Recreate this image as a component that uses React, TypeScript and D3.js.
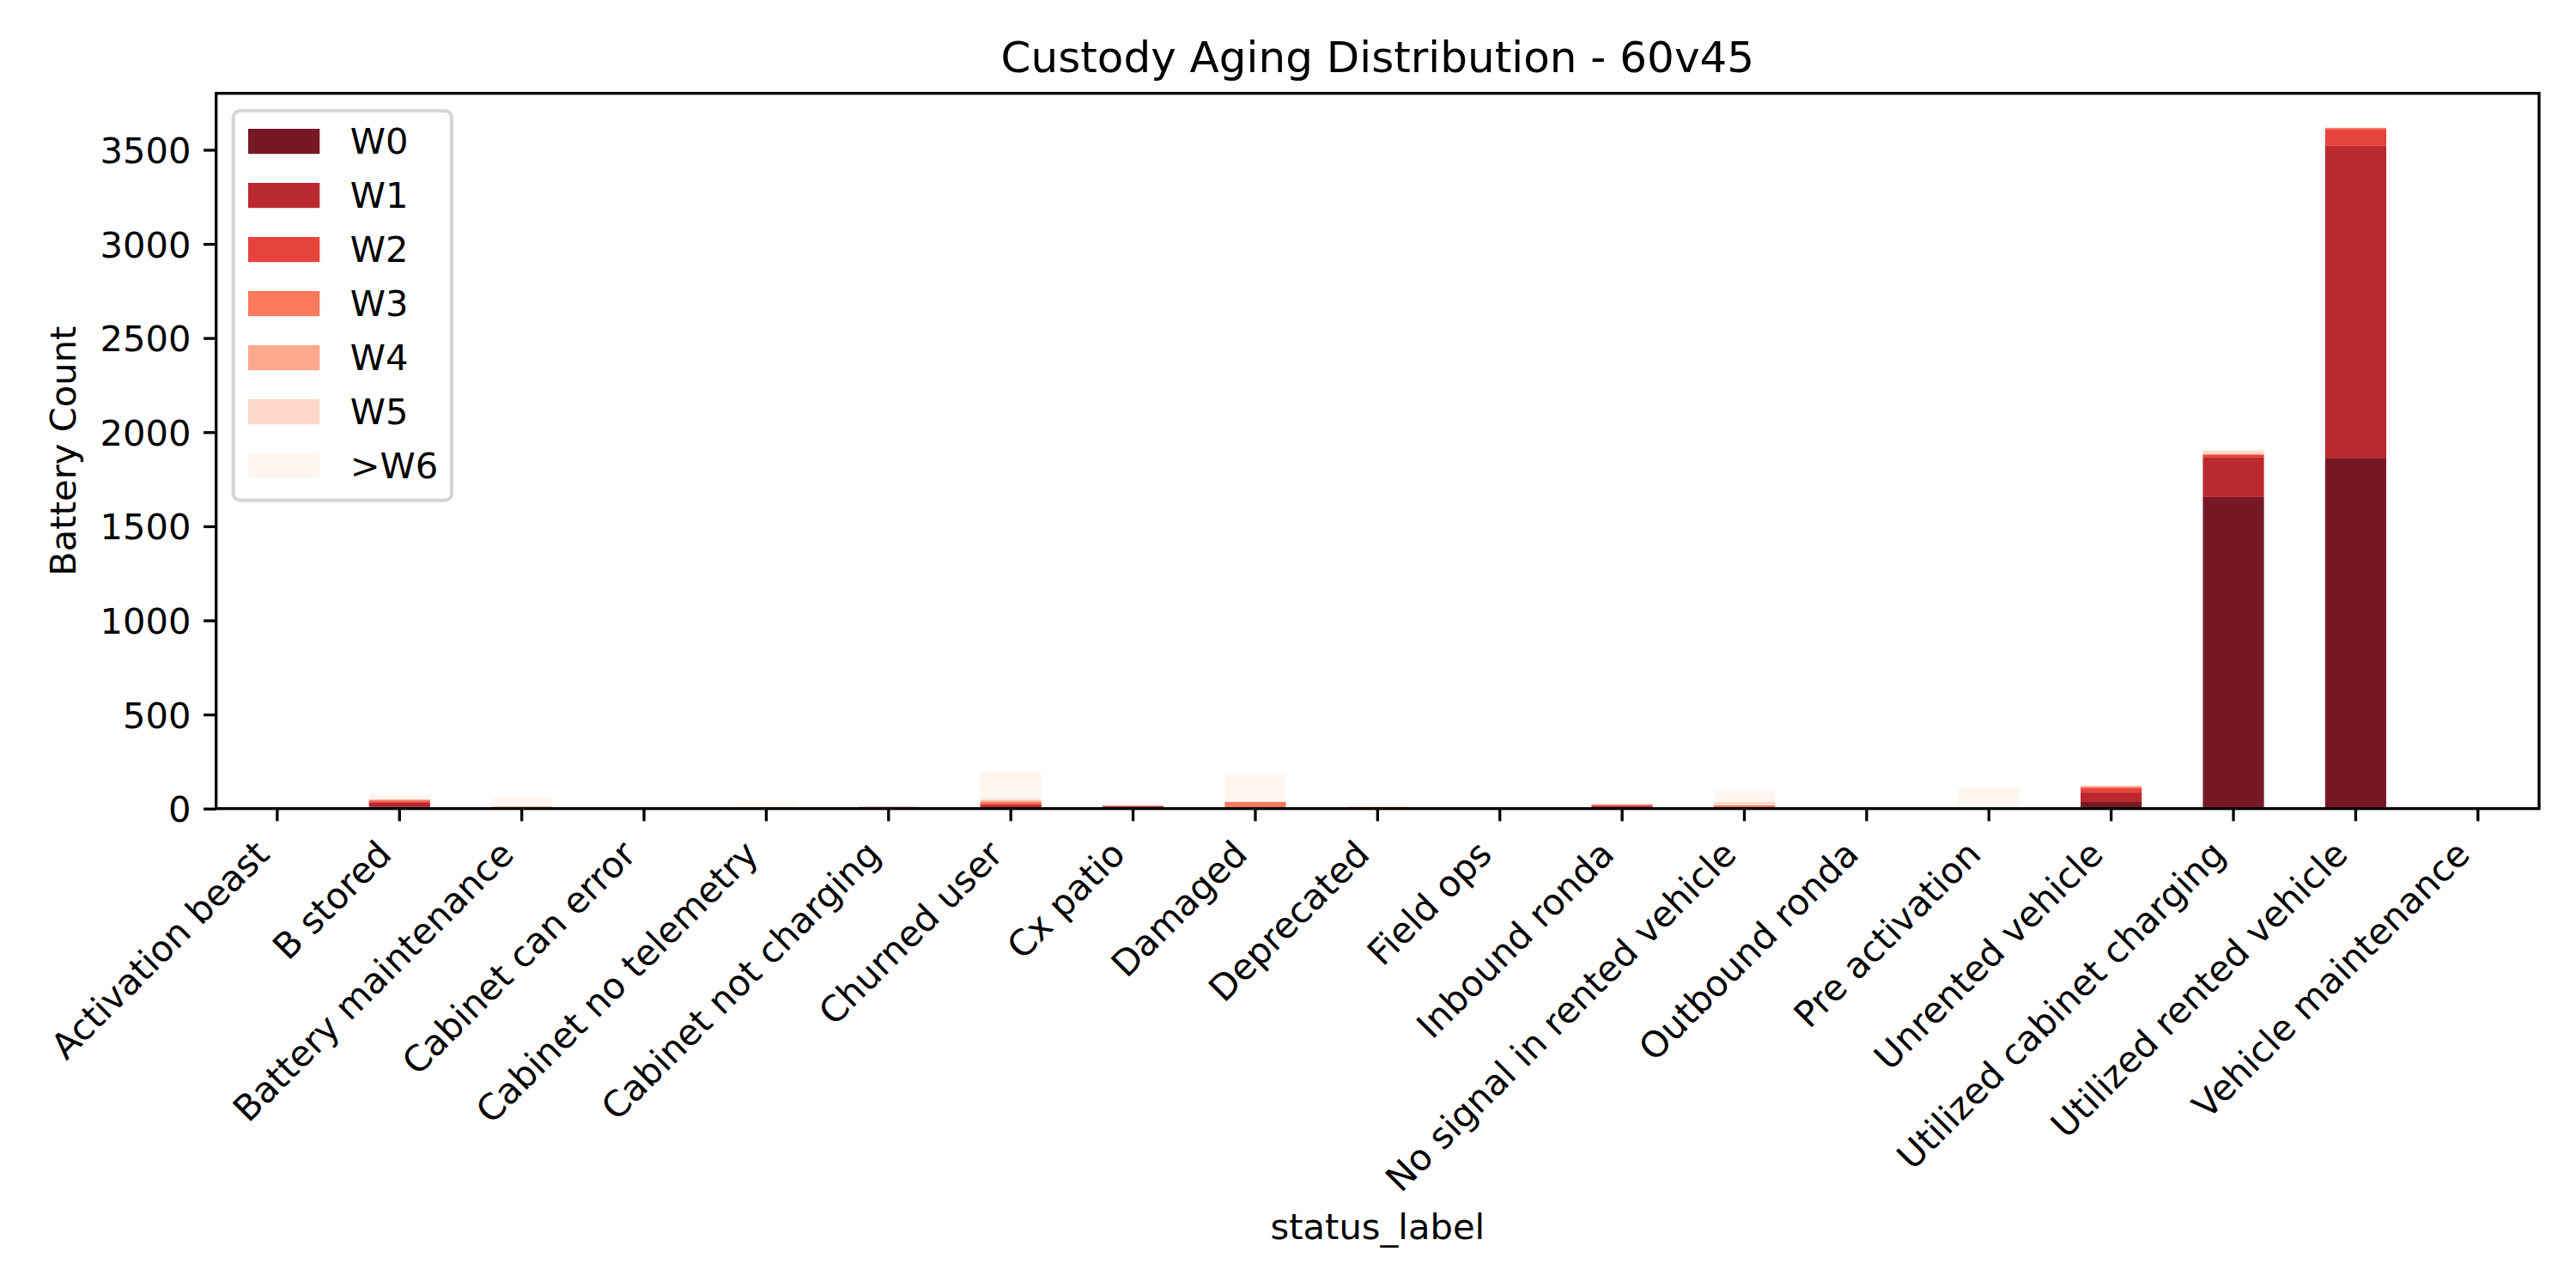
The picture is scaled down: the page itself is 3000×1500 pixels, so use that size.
import React, { useEffect, useRef } from "react";
import * as d3 from "d3";

// status categories (x axis)
const categories = [
  "Activation beast",
  "B stored",
  "Battery maintenance",
  "Cabinet can error",
  "Cabinet no telemetry",
  "Cabinet not charging",
  "Churned user",
  "Cx patio",
  "Damaged",
  "Deprecated",
  "Field ops",
  "Inbound ronda",
  "No signal in rented vehicle",
  "Outbound ronda",
  "Pre activation",
  "Unrented vehicle",
  "Utilized cabinet charging",
  "Utilized rented vehicle",
  "Vehicle maintenance",
];

const seriesKeys = ["W0", "W1", "W2", "W3", "W4", "W5", ">W6"];

// battery counts per age bucket
const w0 = [0, 11, 0, 0, 0, 3, 7, 4, 0, 7, 0, 3, 0, 0, 0, 35, 1655, 1860, 0];
const w1 = [0, 20, 0, 0, 0, 6, 10, 8, 0, 0, 0, 12, 0, 0, 0, 50, 210, 1661, 0];
const w2 = [0, 8, 0, 0, 0, 0, 10, 3, 0, 0, 0, 5, 0, 0, 0, 23, 13, 89, 0];
const w3 = [0, 6, 0, 0, 0, 0, 10, 0, 35, 3, 0, 0, 18, 0, 0, 8, 4, 7, 0];
const w4 = [0, 5, 12, 0, 4, 0, 6, 0, 2, 0, 0, 4, 0, 0, 0, 4, 3, 0, 0];
const w5 = [0, 0, 0, 0, 0, 0, 8, 0, 0, 0, 0, 0, 17, 0, 0, 0, 17, 0, 0];
const w6plus = [0, 27, 46, 0, 26, 0, 141, 0, 141, 9, 0, 0, 59, 0, 112, 0, 9, 2, 0];

const yTicks = [0, 500, 1000, 1500, 2000, 2500, 3000, 3500];

// matplotlib "Reds" colormap control points
const redsStops = [
  "#fff5f0", "#fee0d2", "#fcbba1", "#fc9272", "#fb6a4a",
  "#ef3b2c", "#cb181d", "#a50f15", "#67000d",
];

const App: React.FC = () => {
  const chartRef = useRef<HTMLDivElement>(null);

  useEffect(() => {
    const container = chartRef.current;
    if (!container) return;

    const width = 3000;
    const height = 1500;
    const fs = 41.67; // 10pt @ 300dpi
    const margin = { top: 108.7, right: 43, bottom: 558.3, left: 251.7 };
    const innerW = width - margin.left - margin.right;
    const innerH = height - margin.top - margin.bottom;
    const tickLen = 14.6;
    const lw = 3.33;

    const root = d3.select(container);
    root.selectAll("*").remove();

    const svg = root
      .append("svg")
      .attr("width", width)
      .attr("height", height)
      .style("position", "absolute")
      .style("left", "0px")
      .style("top", "0px")
      .style("font-family", "'DejaVu Sans', sans-serif");

    svg.append("rect").attr("width", width).attr("height", height).attr("fill", "white");

    const g = svg.append("g").attr("transform", `translate(${margin.left},${margin.top})`);

    const columns = [w0, w1, w2, w3, w4, w5, w6plus];
    const rows = categories.map((c, i) => {
      const r: any = { status: c };
      seriesKeys.forEach((k, j) => (r[k] = columns[j][i]));
      return r;
    });

    const stacked = d3.stack<any>().keys(seriesKeys)(rows);
    const maxTotal = d3.max(rows, (r) => d3.sum(seriesKeys, (k) => r[k])) || 0;

    const x = d3
      .scaleBand()
      .domain(categories)
      .range([0, innerW])
      .paddingInner(0.5)
      .paddingOuter(0.25);

    const y = d3.scaleLinear().domain([0, maxTotal * 1.05]).range([innerH, 0]);

    const reds = d3
      .scaleLinear<string>()
      .domain(redsStops.map((_, i) => i / (redsStops.length - 1)))
      .range(redsStops)
      .interpolate(d3.interpolateRgb);

    const color = d3
      .scaleOrdinal<string, string>()
      .domain(seriesKeys)
      .range(seriesKeys.map((_, i) => reds(1 - i / (seriesKeys.length - 1))));

    // bars
    g.selectAll("g.layer")
      .data(stacked)
      .enter()
      .append("g")
      .attr("class", "layer")
      .attr("fill", (d) => color(d.key))
      .attr("fill-opacity", 0.9)
      .selectAll("rect")
      .data((d) => d)
      .enter()
      .append("rect")
      .attr("x", (d: any) => x(d.data.status) as number)
      .attr("width", x.bandwidth())
      .attr("y", (d) => y(d[1]))
      .attr("height", (d) => Math.max(0, y(d[0]) - y(d[1])));

    // y axis
    const yAxis = g
      .append("g")
      .call(d3.axisLeft(y).tickValues(yTicks).tickSize(tickLen).tickPadding(tickLen).tickFormat(d3.format("d")));
    yAxis.select(".domain").remove();
    yAxis.selectAll(".tick line").attr("stroke", "black").attr("stroke-width", lw);
    yAxis
      .selectAll(".tick text")
      .attr("font-size", fs)
      .attr("font-family", "'DejaVu Sans', sans-serif")
      .attr("fill", "black")
      .attr("dy", "0.36em");

    // x axis
    const xAxis = g
      .append("g")
      .attr("transform", `translate(0,${innerH})`)
      .call(d3.axisBottom(x).tickSize(tickLen).tickSizeOuter(0));
    xAxis.select(".domain").remove();
    xAxis.selectAll(".tick line").attr("stroke", "black").attr("stroke-width", lw);
    xAxis
      .selectAll(".tick text")
      .attr("font-size", fs)
      .attr("font-family", "'DejaVu Sans', sans-serif")
      .attr("fill", "black")
      .attr("text-anchor", "end")
      .attr("dy", null)
      .attr("y", null)
      .attr("transform", `translate(${-0.24 * fs * 0.707},${tickLen * 2 + 4 + 0.76 * fs * 0.707}) rotate(-45)`);

    // axes frame
    g.append("rect")
      .attr("width", innerW)
      .attr("height", innerH)
      .attr("fill", "none")
      .attr("stroke", "black")
      .attr("stroke-width", lw);

    // title and labels
    svg
      .append("text")
      .attr("x", margin.left + innerW / 2)
      .attr("y", margin.top - 25)
      .attr("text-anchor", "middle")
      .attr("font-size", 50)
      .text("Custody Aging Distribution - 60v45");

    svg
      .append("text")
      .attr("x", margin.left + innerW / 2)
      .attr("y", 1443)
      .attr("text-anchor", "middle")
      .attr("font-size", fs)
      .text("status_label");

    svg
      .append("text")
      .attr("transform", `translate(88,${margin.top + innerH / 2}) rotate(-90)`)
      .attr("text-anchor", "middle")
      .attr("font-size", fs)
      .text("Battery Count");

    // legend
    const legend = svg.append("g");
    legend
      .append("rect")
      .attr("x", 271.7)
      .attr("y", 129)
      .attr("width", 254.3)
      .attr("height", 453.7)
      .attr("rx", 8)
      .attr("fill", "white")
      .attr("fill-opacity", 0.8)
      .attr("stroke", "#cccccc")
      .attr("stroke-opacity", 0.8)
      .attr("stroke-width", 4.17);

    const item = legend
      .selectAll("g.item")
      .data(seriesKeys)
      .enter()
      .append("g")
      .attr("class", "item")
      .attr("transform", (_, i) => `translate(0,${i * 63})`);

    item
      .append("rect")
      .attr("x", 289)
      .attr("y", 150)
      .attr("width", 83.3)
      .attr("height", 29.2)
      .attr("fill", (d) => color(d))
      .attr("fill-opacity", 0.9);

    item
      .append("text")
      .attr("x", 407.7)
      .attr("y", 179)
      .attr("font-size", fs)
      .text((d) => d);
  }, []);

  return <div ref={chartRef}></div>;
};

export default App;
